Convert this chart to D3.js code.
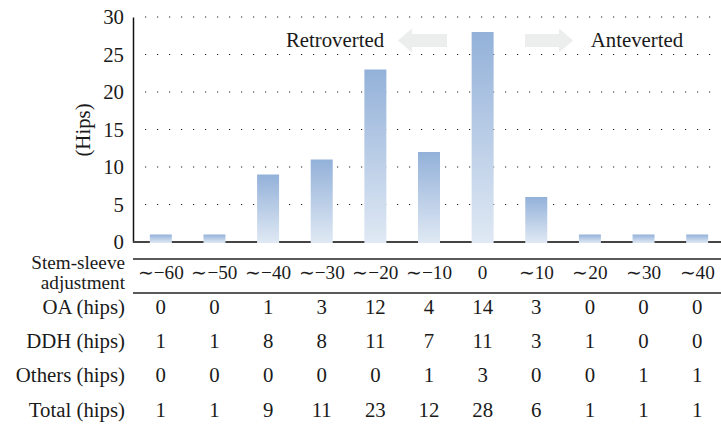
<!DOCTYPE html>
<html><head><meta charset="utf-8">
<script src="https://cdn.jsdelivr.net/npm/d3@7"></script>
<style>body{margin:0;background:#fff}svg{display:block}text{font-family:"Liberation Serif","Times New Roman",serif;fill:#1a1a1a}</style>
</head><body>
<script>
const categories = ["∼−60","∼−50","∼−40","∼−30","∼−20","∼−10","0","∼10","∼20","∼30","∼40"];
const oa     = [0,0,1,3,12,4,14,3,0,0,0];
const ddh    = [1,1,8,8,11,7,11,3,1,0,0];
const others = [0,0,0,0,0,1,3,0,0,1,1];
const total  = [1,1,9,11,23,12,28,6,1,1,1];
const yTicks = [0,5,10,15,20,25,30];
const rowLabels = ["OA (hips)","DDH (hips)","Others (hips)","Total (hips)"];
const rows = [oa, ddh, others, total];

const W = 721, H = 427;
const svg = d3.select("body").append("svg").attr("width", W).attr("height", H);
const fs = 20.8, fsH = 19.2;

const x = d3.scaleBand().domain(categories).range([134, 724]).paddingInner(0.59).paddingOuter(0.295);
const y = d3.scaleLinear().domain([0, 30]).range([242, 17]);

const defs = svg.append("defs");
const grad = defs.append("linearGradient").attr("id","bg").attr("x1",0).attr("y1",0).attr("x2",0).attr("y2",1);
grad.append("stop").attr("offset","0%").attr("stop-color","#93b1d9");
grad.append("stop").attr("offset","100%").attr("stop-color","#e0e9f4");

// gridlines
svg.append("g").selectAll("line").data(yTicks.filter(d => d > 0)).join("line")
  .attr("x1", 145).attr("x2", W).attr("y1", d => y(d)).attr("y2", d => y(d))
  .attr("stroke", "#222").attr("stroke-width", 1.2).attr("stroke-dasharray", "1.2,10.8");

// y axis
const yAxis = d3.axisLeft(y).tickValues(yTicks).tickSize(0).tickPadding(9);
const ga = svg.append("g").attr("transform", "translate(133,0)").call(yAxis);
ga.select(".domain").attr("stroke", "#111").attr("stroke-width", 1.5);
ga.selectAll("text").attr("font-size", fs).attr("font-family", '"Liberation Serif",serif').attr("fill", "#1a1a1a");

// baseline
svg.append("line").attr("x1", 133).attr("x2", W).attr("y1", y(0)).attr("y2", y(0))
  .attr("stroke", "#444").attr("stroke-width", 2);

// bars
svg.append("g").selectAll("rect").data(categories).join("rect")
  .attr("x", d => x(d)).attr("width", x.bandwidth())
  .attr("y", (d, i) => y(total[i])).attr("height", (d, i) => y(0) - y(total[i]) + 1)
  .attr("fill", "url(#bg)");

// y title
svg.append("text").attr("transform", "translate(90,130) rotate(-90)").attr("text-anchor", "middle")
  .attr("font-size", fs).text("(Hips)");

// arrows and labels
function arrow(xTail, xTip, cy) {
  const dir = Math.sign(xTip - xTail);
  const headLen = 14, sh = 6.5, hh = 12;
  const xh = xTip - dir * headLen;
  const pts = [[xTail, cy - sh], [xh, cy - sh], [xh, cy - hh], [xTip, cy], [xh, cy + hh], [xh, cy + sh], [xTail, cy + sh]];
  svg.append("path").attr("d", d3.line()(pts) + "Z").attr("fill", "#eceeed");
}
arrow(447, 398, 40.5);
arrow(525, 573, 40.5);
svg.append("text").attr("x", 335).attr("y", 47).attr("text-anchor", "middle").attr("font-size", fs).text("Retroverted");
svg.append("text").attr("x", 637).attr("y", 47).attr("text-anchor", "middle").attr("font-size", fs).text("Anteverted");

// table
svg.append("line").attr("x1", 133).attr("x2", W).attr("y1", 259).attr("y2", 259).attr("stroke", "#222").attr("stroke-width", 1.3);
svg.append("line").attr("x1", 133).attr("x2", W).attr("y1", 293).attr("y2", 293).attr("stroke", "#222").attr("stroke-width", 1.3);
svg.append("text").attr("x", 125).attr("y", 269).attr("text-anchor", "end").attr("font-size", fsH).text("Stem-sleeve");
svg.append("text").attr("x", 125).attr("y", 289).attr("text-anchor", "end").attr("font-size", fsH).text("adjustment");
svg.append("g").selectAll("text").data(categories).join("text")
  .attr("x", d => x(d) + x.bandwidth() / 2).attr("y", 279).attr("text-anchor", "middle")
  .attr("font-size", fsH).text(d => d);

const rowY = [314, 348, 382, 416.5];
rows.forEach((r, ri) => {
  svg.append("text").attr("x", 125).attr("y", rowY[ri]).attr("text-anchor", "end").attr("font-size", fs).text(rowLabels[ri]);
  svg.append("g").selectAll("text").data(r).join("text")
    .attr("x", (d, i) => x(categories[i]) + x.bandwidth() / 2).attr("y", rowY[ri])
    .attr("text-anchor", "middle").attr("font-size", fs).text(d => d);
});
</script>
</body></html>
